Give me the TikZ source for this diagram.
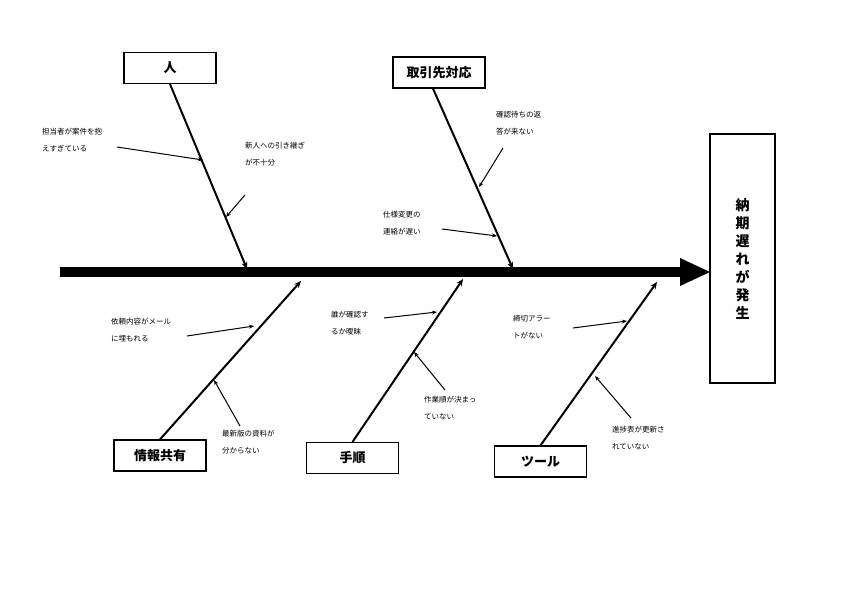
\documentclass[tikz,border=0pt]{standalone}
\usepackage{fontspec}
\setmainfont{Noto Sans CJK JP}
\usetikzlibrary{arrows.meta}
\begin{document}
\begin{tikzpicture}[x=1pt,y=-1pt,
 cat/.style={draw,line width=1.2pt,minimum width=92pt,minimum height=31pt,font=\fontsize{13}{15}\selectfont\bfseries,inner sep=0},
 bone/.style={line width=2pt,-{Stealth[length=7pt,width=6pt]}},
 sub/.style={line width=1pt,-{Stealth[length=5pt,width=4pt]}},
 lab/.style={anchor=north west,align=left,font=\fontsize{7.5}{17}\selectfont,inner sep=0}]
\useasboundingbox (0,0) rectangle (842,595);
\node[draw,line width=1.2pt,minimum width=65pt,minimum height=249pt,inner sep=0,align=center,font=\fontsize{14}{18}\selectfont\bfseries] (eff) at (742.5,258.5) {納\\期\\遅\\れ\\が\\発\\生};
\coordinate (s0) at (60,272);
\coordinate (s1) at (682,272);
\draw[line width=10pt] (s0) -- (s1);
\fill (680,258) -- (710,272) -- (680,286) -- cycle;
\node[cat] (p) at (170,68) {人};
\node[cat] (t) at (439,72.5) {取引先対応};
\node[cat] (j) at (160,455.5) {情報共有};
\node[cat] (h) at (352.5,458) {手順};
\node[cat] (u) at (540.5,461.5) {ツール};
\coordinate (pe) at (247,269); \coordinate (te) at (513,269);
\coordinate (je) at (301,281); \coordinate (he) at (463,279); \coordinate (ue) at (657,282);
\draw[bone] (p.south) -- (pe);
\draw[bone] ([xshift=-6pt]t.south) -- (te);
\draw[bone] (j.north) -- (je);
\draw[bone] (h.north) -- (he);
\draw[bone] (u.north) -- (ue);
\node[lab] (a1) at (42,128) {担当者が案件を抱\\えすぎている};
\node[lab] (a2) at (245,142) {新人への引き継ぎ\\が不十分};
\node[lab] (a3) at (496,111) {確認待ちの返\\答が来ない};
\node[lab] (a4) at (383,211) {仕様変更の\\連絡が遅い};
\node[lab] (b1) at (111,318) {依頼内容がメール\\に埋もれる};
\node[lab] (b2) at (222,430) {最新版の資料が\\分からない};
\node[lab] (b3) at (331,311) {誰が確認す\\るか曖昧};
\node[lab] (b4) at (424,396) {作業順が決まっ\\ていない};
\node[lab] (b5) at (513,315) {締切アラー\\トがない};
\node[lab] (b6) at (612,426) {進捗表が更新さ\\れていない};
\coordinate (c1s) at (117,147); \coordinate (c1e) at (203,160);
\coordinate (c2s) at (245,195); \coordinate (c2e) at (226,217);
\coordinate (c3s) at (503,148); \coordinate (c3e) at (479,187);
\coordinate (c4s) at (442,229); \coordinate (c4e) at (497,236);
\coordinate (d1s) at (187,336); \coordinate (d1e) at (254,326);
\coordinate (d2s) at (240,426); \coordinate (d2e) at (214,380);
\coordinate (d3s) at (384,318); \coordinate (d3e) at (437,312);
\coordinate (d4s) at (445,390); \coordinate (d4e) at (414,352);
\coordinate (d5s) at (573,328); \coordinate (d5e) at (627,321);
\coordinate (d6s) at (631,418); \coordinate (d6e) at (595,376);
\foreach \a/\b in {c1s/c1e,c2s/c2e,c3s/c3e,c4s/c4e,d1s/d1e,d2s/d2e,d3s/d3e,d4s/d4e,d5s/d5e,d6s/d6e}
 \draw[sub] (\a) -- (\b);
\end{tikzpicture}
\end{document}
